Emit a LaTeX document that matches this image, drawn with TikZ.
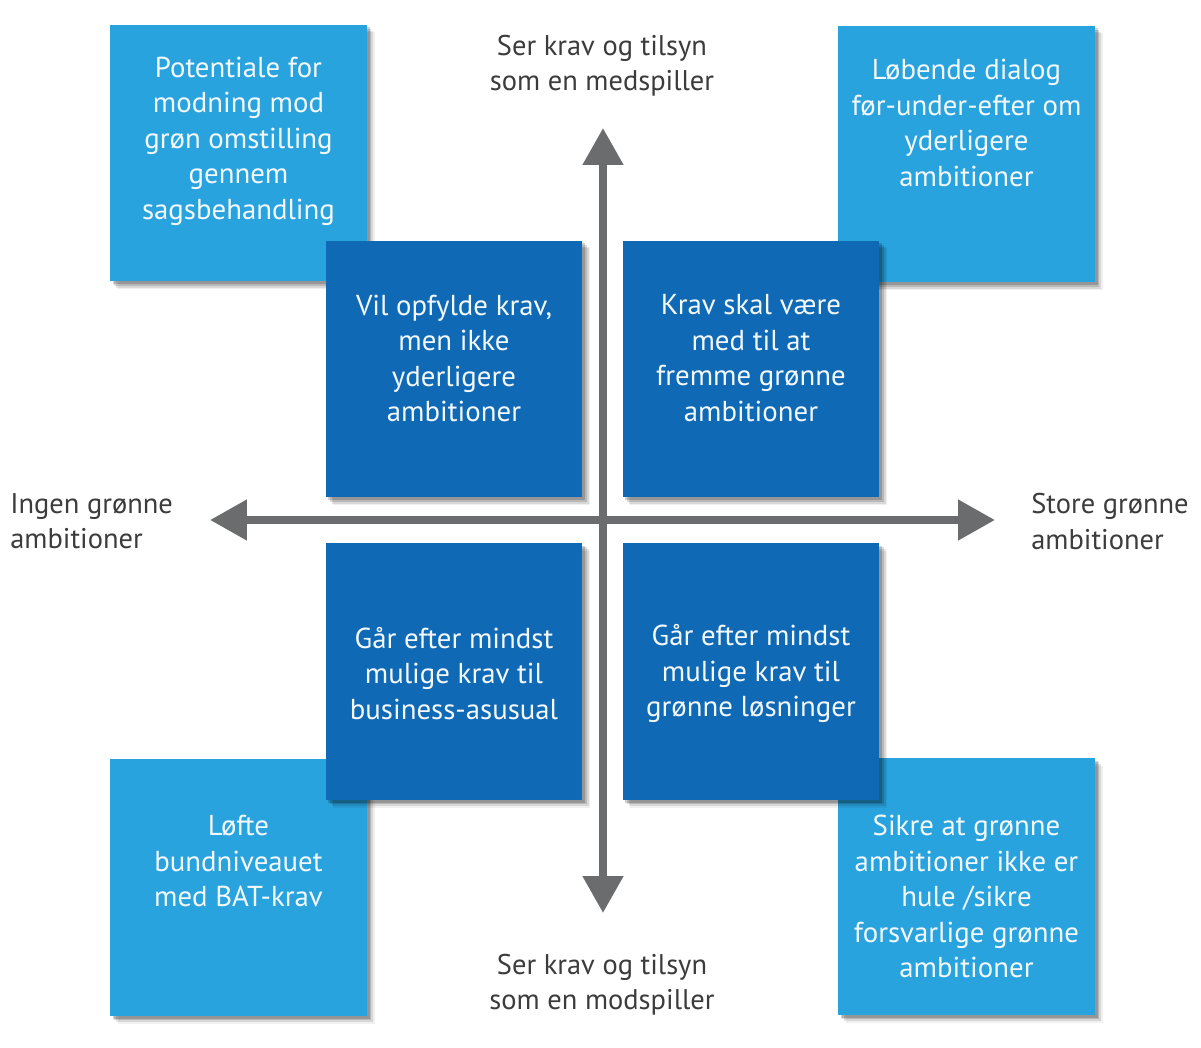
\documentclass[tikz,border=0pt]{standalone}
\usepackage{fontspec}
\setmainfont{PT Sans}
\usetikzlibrary{arrows.meta,shadows}
\definecolor{lightbox}{HTML}{29A3DE}
\definecolor{darkbox}{HTML}{1069B4}
\definecolor{axisgray}{HTML}{6B6C6E}
\definecolor{labelgray}{HTML}{3C3C3C}
\definecolor{boxtext}{HTML}{F2F8FC}
\tikzset{
  sq/.style={rectangle, minimum width=5.14cm, minimum height=5.14cm, inner sep=0pt,
    general shadow={shadow xshift=4.5pt, shadow yshift=-4.5pt, fill=black, opacity=0.06},
    general shadow={shadow xshift=3.5pt, shadow yshift=-3.5pt, fill=black, opacity=0.10},
    general shadow={shadow xshift=2.5pt, shadow yshift=-2.5pt, fill=black, opacity=0.14},
    general shadow={shadow xshift=1.5pt, shadow yshift=-1.5pt, fill=black, opacity=0.18}},
  lightsq/.style={sq, fill=lightbox},
  darksq/.style={sq, fill=darkbox},
  boxtxt/.style={text=boxtext, align=center, font=\fontsize{16.4}{20.2}\selectfont, inner sep=0pt},
  axislbl/.style={text=labelgray, font=\fontsize{16.2}{20}\selectfont, inner sep=0pt},
  axisarrow/.style={draw=axisgray, line width=0.16cm,
    {Triangle[width=0.78cm,length=0.74cm]}-{Triangle[width=0.78cm,length=0.74cm]}}
}
\begin{document}
\begin{tikzpicture}[x=0.02cm, y=-0.02cm]
\useasboundingbox[fill=white] (0,0) rectangle (1201,1048);
% outer light boxes
\node[lightsq] (tl) at (238.5,153) {};
\node[lightsq] (tr) at (966.5,154) {};
\node[lightsq] (bl) at (238.5,887.5) {};
\node[lightsq] (br) at (966.5,886.5) {};
% inner dark boxes
\node[darksq] (itl) at (454,369) {};
\node[darksq] (itr) at (751,369) {};
\node[darksq] (ibl) at (454,671.5) {};
\node[darksq] (ibr) at (751,671.5) {};
% texts
\node[boxtxt] (ttl) at (238.5,141) {Potentiale for\\modning mod\\grøn omstilling\\gennem\\sagsbehandling};
\node[boxtxt] (ttr) at (966.5,123) {Løbende dialog\\før-under-efter om\\yderligere\\ambitioner};
\node[boxtxt] (tbl) at (238.5,861) {Løfte\\bundniveauet\\med BAT-krav};
\node[boxtxt] (tbr) at (966.5,896.5) {Sikre at grønne\\ambitioner ikke er\\hule /sikre\\forsvarlige grønne\\ambitioner};
\node[boxtxt] (titl) at (454,358.5) {Vil opfylde krav,\\men ikke\\yderligere\\ambitioner};
\node[boxtxt] (titr) at (751,358) {Krav skal være\\med til at\\fremme grønne\\ambitioner};
\node[boxtxt] (tibl) at (454,673.5) {Går efter mindst\\mulige krav til\\business-asusual};
\node[boxtxt] (tibr) at (751,673.5) {Går efter mindst\\mulige krav til\\grønne løsninger};
% axes
\coordinate (up) at (603,128);
\coordinate (down) at (603,913);
\coordinate (left) at (210,520);
\coordinate (right) at (995,520);
\draw[axisarrow] (down) -- (up);
\draw[axisarrow] (left) -- (right);
% axis labels
\node[axislbl, align=center] (ltop) at (602,65.5) {Ser krav og tilsyn\\som en medspiller};
\node[axislbl, align=center] (lbot) at (602,984.5) {Ser krav og tilsyn\\som en modspiller};
\node[axislbl, align=left, anchor=west] (lleft) at (10,521.5) {Ingen grønne\\ambitioner};
\node[axislbl, align=left, anchor=west] (lright) at (1031,521.5) {Store grønne\\ambitioner};
\end{tikzpicture}
\end{document}
